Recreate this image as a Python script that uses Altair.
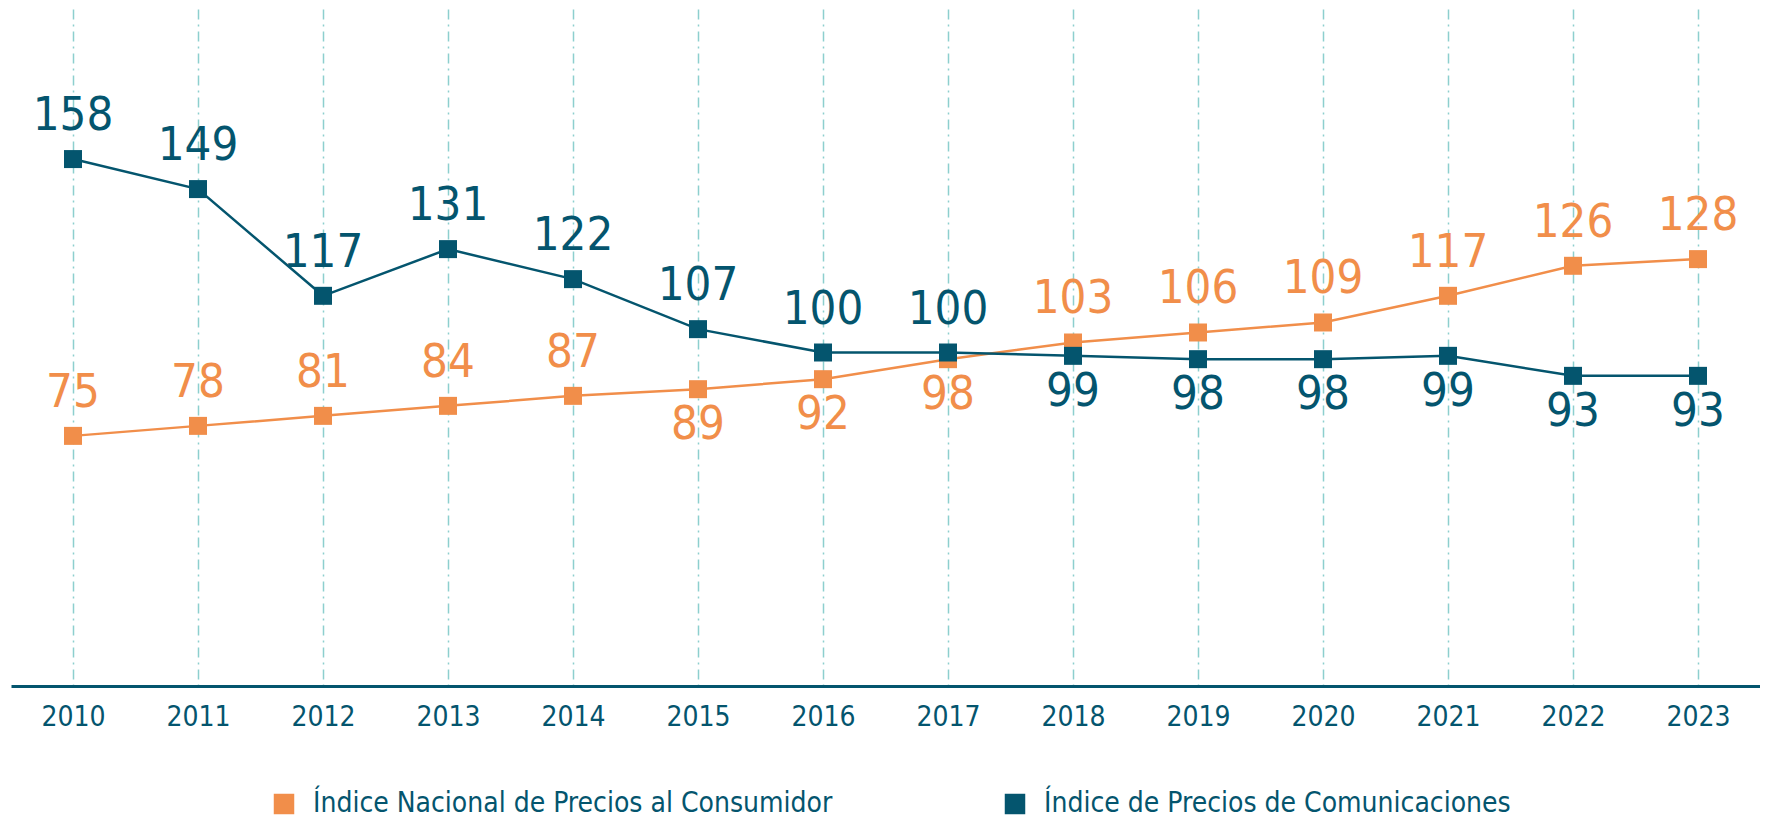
import altair as alt
import pandas as pd

years = ["2010", "2011", "2012", "2013", "2014", "2015", "2016",
         "2017", "2018", "2019", "2020", "2021", "2022", "2023"]
inpc = [75, 78, 81, 84, 87, 89, 92, 98, 103, 106, 109, 117, 126, 128]
comm = [158, 149, 117, 131, 122, 107, 100, 100, 99, 98, 98, 99, 93, 93]
inpc_side = ["above"] * 5 + ["below"] * 3 + ["above"] * 6
comm_side = ["above"] * 8 + ["below"] * 6

S1 = "Índice Nacional de Precios al Consumidor"
S2 = "Índice de Precios de Comunicaciones"
ORANGE = "#F18E4A"
BLUE = "#04556E"
GRID = "#8DCFCE"
FONT = "DejaVu Sans Condensed, Roboto Condensed, Roboto"

rows = []
for i, y in enumerate(years):
    rows.append({"year": y, "value": inpc[i], "serie": S1, "side": inpc_side[i]})
    rows.append({"year": y, "value": comm[i], "serie": S2, "side": comm_side[i]})
df = pd.DataFrame(rows)

x = alt.X("year:O", scale=alt.Scale(type="point", padding=0.496),
          axis=alt.Axis(title=None, labelAngle=0, grid=True, gridColor=GRID,
                        gridDash=[10, 5, 2, 5], gridWidth=1.5, ticks=False,
                        domainColor=BLUE, domainWidth=3, labelColor=BLUE,
                        labelFont=FONT, labelFontSize=28, labelPadding=17))
y = alt.Y("value:Q", scale=alt.Scale(domain=[0, 203], nice=False, zero=True), axis=None)

color = alt.Color("serie:N", scale=alt.Scale(domain=[S1, S2], range=[ORANGE, BLUE]))

base = alt.Chart(df)
lines = base.mark_line(strokeWidth=2.5).encode(x=x, y=y, color=color)
points = base.mark_point(shape="square", size=324, filled=True, opacity=1).encode(
    x=x, y=y, color=color)
above = base.transform_filter(alt.datum.side == "above").mark_text(
    font=FONT, fontSize=47, baseline="alphabetic", dy=-29
).encode(x=x, y=y, text="value:Q", color=color)
below = base.transform_filter(alt.datum.side == "below").mark_text(
    font=FONT, fontSize=47, baseline="top", dy=13
).encode(x=x, y=y, text="value:Q", color=color)

chart = alt.layer(lines, points, above, below).properties(
    width=1749, height=677,
    padding={"left": 3, "top": 1, "right": 0, "bottom": 138},
    autosize=alt.AutoSizeParams(type="none"),
).configure_view(stroke=None).configure_legend(
    title=None, orient="none", legendX=259, legendY=781,
    direction="horizontal", columns=2, columnPadding=168,
    symbolType="square", symbolSize=420, symbolStrokeWidth=0,
    labelFont=FONT, labelFontSize=28, labelColor=BLUE,
    labelOffset=15, labelLimit=800,
)

chart.save("out.html", embed_options={"renderer": "svg", "actions": False})
